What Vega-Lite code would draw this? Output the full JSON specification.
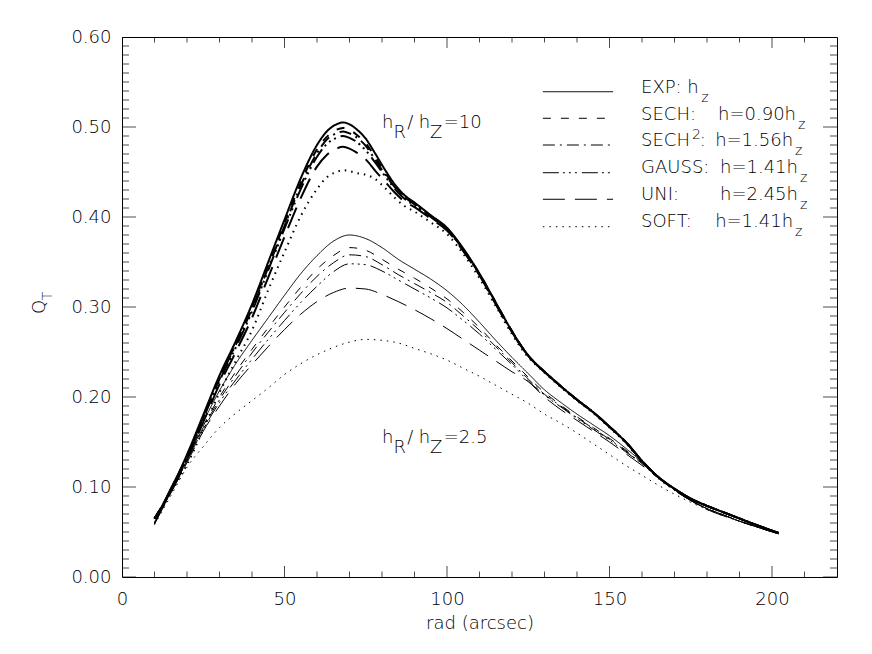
{
"$schema":"https://vega.github.io/schema/vega-lite/v6.json",
"width":715,"height":540,
"autosize":{"type":"none"},
"padding":{"left":122,"top":37,"right":35,"bottom":77},
"background":"white",
"config":{"view":{"stroke":"black","strokeWidth":1},
"axis":{"grid":false,"ticks":false,"tickSize":0,"domain":false,"labelFont":"DejaVu Sans","labelFontSize":18,"labelFontWeight":200,"labelColor":"black","titleFont":"DejaVu Sans","titleFontSize":18,"titleFontWeight":200,"titleColor":"black","labelFlush":false}},
"datasets":{
"curves":[
{"m":"EXP","s":"A","r":10,"q":0.065},{"m":"EXP","s":"A","r":12.5,"q":0.080},{"m":"EXP","s":"A","r":15,"q":0.098},{"m":"EXP","s":"A","r":17.5,"q":0.116},{"m":"EXP","s":"A","r":20,"q":0.136},{"m":"EXP","s":"A","r":25,"q":0.180},{"m":"EXP","s":"A","r":30,"q":0.224},{"m":"EXP","s":"A","r":35,"q":0.262},{"m":"EXP","s":"A","r":40,"q":0.303},{"m":"EXP","s":"A","r":45,"q":0.350},{"m":"EXP","s":"A","r":50,"q":0.397},{"m":"EXP","s":"A","r":55,"q":0.443},{"m":"EXP","s":"A","r":60,"q":0.480},{"m":"EXP","s":"A","r":63,"q":0.495},{"m":"EXP","s":"A","r":66,"q":0.503},{"m":"EXP","s":"A","r":68,"q":0.505},{"m":"EXP","s":"A","r":70,"q":0.503},{"m":"EXP","s":"A","r":72,"q":0.498},{"m":"EXP","s":"A","r":75,"q":0.487},{"m":"EXP","s":"A","r":78,"q":0.470},{"m":"EXP","s":"A","r":81,"q":0.452},{"m":"EXP","s":"A","r":84,"q":0.436},{"m":"EXP","s":"A","r":87,"q":0.424},{"m":"EXP","s":"A","r":90,"q":0.416},{"m":"EXP","s":"A","r":95,"q":0.402},{"m":"EXP","s":"A","r":100,"q":0.388},{"m":"EXP","s":"A","r":105,"q":0.365},{"m":"EXP","s":"A","r":110,"q":0.337},{"m":"EXP","s":"A","r":115,"q":0.305},{"m":"EXP","s":"A","r":120,"q":0.273},{"m":"EXP","s":"A","r":125,"q":0.246},{"m":"EXP","s":"A","r":127,"q":0.238},{"m":"EXP","s":"A","r":130,"q":0.228},{"m":"EXP","s":"A","r":135,"q":0.212},{"m":"EXP","s":"A","r":140,"q":0.197},{"m":"EXP","s":"A","r":145,"q":0.183},{"m":"EXP","s":"A","r":150,"q":0.167},{"m":"EXP","s":"A","r":155,"q":0.150},{"m":"EXP","s":"A","r":160,"q":0.129},{"m":"EXP","s":"A","r":165,"q":0.111},{"m":"EXP","s":"A","r":170,"q":0.098},{"m":"EXP","s":"A","r":175,"q":0.087},{"m":"EXP","s":"A","r":180,"q":0.079},{"m":"EXP","s":"A","r":185,"q":0.072},{"m":"EXP","s":"A","r":190,"q":0.065},{"m":"EXP","s":"A","r":195,"q":0.058},{"m":"EXP","s":"A","r":202,"q":0.049},
{"m":"SECH","s":"A","r":10,"q":0.065},{"m":"SECH","s":"A","r":12.5,"q":0.080},{"m":"SECH","s":"A","r":15,"q":0.097},{"m":"SECH","s":"A","r":17.5,"q":0.115},{"m":"SECH","s":"A","r":20,"q":0.135},{"m":"SECH","s":"A","r":25,"q":0.178},{"m":"SECH","s":"A","r":30,"q":0.222},{"m":"SECH","s":"A","r":35,"q":0.259},{"m":"SECH","s":"A","r":40,"q":0.300},{"m":"SECH","s":"A","r":45,"q":0.346},{"m":"SECH","s":"A","r":50,"q":0.393},{"m":"SECH","s":"A","r":55,"q":0.438},{"m":"SECH","s":"A","r":60,"q":0.475},{"m":"SECH","s":"A","r":63,"q":0.489},{"m":"SECH","s":"A","r":66,"q":0.497},{"m":"SECH","s":"A","r":68,"q":0.499},{"m":"SECH","s":"A","r":70,"q":0.497},{"m":"SECH","s":"A","r":72,"q":0.492},{"m":"SECH","s":"A","r":75,"q":0.482},{"m":"SECH","s":"A","r":78,"q":0.466},{"m":"SECH","s":"A","r":81,"q":0.449},{"m":"SECH","s":"A","r":84,"q":0.434},{"m":"SECH","s":"A","r":87,"q":0.423},{"m":"SECH","s":"A","r":90,"q":0.415},{"m":"SECH","s":"A","r":95,"q":0.401},{"m":"SECH","s":"A","r":100,"q":0.387},{"m":"SECH","s":"A","r":105,"q":0.364},{"m":"SECH","s":"A","r":110,"q":0.337},{"m":"SECH","s":"A","r":115,"q":0.305},{"m":"SECH","s":"A","r":120,"q":0.273},{"m":"SECH","s":"A","r":125,"q":0.246},{"m":"SECH","s":"A","r":127,"q":0.238},{"m":"SECH","s":"A","r":130,"q":0.228},{"m":"SECH","s":"A","r":135,"q":0.212},{"m":"SECH","s":"A","r":140,"q":0.197},{"m":"SECH","s":"A","r":145,"q":0.183},{"m":"SECH","s":"A","r":150,"q":0.167},{"m":"SECH","s":"A","r":155,"q":0.150},{"m":"SECH","s":"A","r":160,"q":0.129},{"m":"SECH","s":"A","r":165,"q":0.111},{"m":"SECH","s":"A","r":170,"q":0.098},{"m":"SECH","s":"A","r":175,"q":0.087},{"m":"SECH","s":"A","r":180,"q":0.079},{"m":"SECH","s":"A","r":185,"q":0.072},{"m":"SECH","s":"A","r":190,"q":0.065},{"m":"SECH","s":"A","r":195,"q":0.058},{"m":"SECH","s":"A","r":202,"q":0.049},
{"m":"SECH2","s":"A","r":10,"q":0.065},{"m":"SECH2","s":"A","r":12.5,"q":0.080},{"m":"SECH2","s":"A","r":15,"q":0.097},{"m":"SECH2","s":"A","r":17.5,"q":0.115},{"m":"SECH2","s":"A","r":20,"q":0.134},{"m":"SECH2","s":"A","r":25,"q":0.177},{"m":"SECH2","s":"A","r":30,"q":0.220},{"m":"SECH2","s":"A","r":35,"q":0.258},{"m":"SECH2","s":"A","r":40,"q":0.298},{"m":"SECH2","s":"A","r":45,"q":0.344},{"m":"SECH2","s":"A","r":50,"q":0.390},{"m":"SECH2","s":"A","r":55,"q":0.435},{"m":"SECH2","s":"A","r":60,"q":0.471},{"m":"SECH2","s":"A","r":63,"q":0.486},{"m":"SECH2","s":"A","r":66,"q":0.493},{"m":"SECH2","s":"A","r":68,"q":0.495},{"m":"SECH2","s":"A","r":70,"q":0.493},{"m":"SECH2","s":"A","r":72,"q":0.489},{"m":"SECH2","s":"A","r":75,"q":0.479},{"m":"SECH2","s":"A","r":78,"q":0.463},{"m":"SECH2","s":"A","r":81,"q":0.447},{"m":"SECH2","s":"A","r":84,"q":0.433},{"m":"SECH2","s":"A","r":87,"q":0.422},{"m":"SECH2","s":"A","r":90,"q":0.414},{"m":"SECH2","s":"A","r":95,"q":0.401},{"m":"SECH2","s":"A","r":100,"q":0.387},{"m":"SECH2","s":"A","r":105,"q":0.364},{"m":"SECH2","s":"A","r":110,"q":0.336},{"m":"SECH2","s":"A","r":115,"q":0.304},{"m":"SECH2","s":"A","r":120,"q":0.273},{"m":"SECH2","s":"A","r":125,"q":0.246},{"m":"SECH2","s":"A","r":127,"q":0.238},{"m":"SECH2","s":"A","r":130,"q":0.228},{"m":"SECH2","s":"A","r":135,"q":0.212},{"m":"SECH2","s":"A","r":140,"q":0.197},{"m":"SECH2","s":"A","r":145,"q":0.183},{"m":"SECH2","s":"A","r":150,"q":0.167},{"m":"SECH2","s":"A","r":155,"q":0.150},{"m":"SECH2","s":"A","r":160,"q":0.129},{"m":"SECH2","s":"A","r":165,"q":0.111},{"m":"SECH2","s":"A","r":170,"q":0.098},{"m":"SECH2","s":"A","r":175,"q":0.087},{"m":"SECH2","s":"A","r":180,"q":0.079},{"m":"SECH2","s":"A","r":185,"q":0.072},{"m":"SECH2","s":"A","r":190,"q":0.065},{"m":"SECH2","s":"A","r":195,"q":0.058},{"m":"SECH2","s":"A","r":202,"q":0.049},
{"m":"GAUSS","s":"A","r":10,"q":0.065},{"m":"GAUSS","s":"A","r":12.5,"q":0.079},{"m":"GAUSS","s":"A","r":15,"q":0.097},{"m":"GAUSS","s":"A","r":17.5,"q":0.114},{"m":"GAUSS","s":"A","r":20,"q":0.133},{"m":"GAUSS","s":"A","r":25,"q":0.176},{"m":"GAUSS","s":"A","r":30,"q":0.218},{"m":"GAUSS","s":"A","r":35,"q":0.255},{"m":"GAUSS","s":"A","r":40,"q":0.295},{"m":"GAUSS","s":"A","r":45,"q":0.341},{"m":"GAUSS","s":"A","r":50,"q":0.387},{"m":"GAUSS","s":"A","r":55,"q":0.431},{"m":"GAUSS","s":"A","r":60,"q":0.467},{"m":"GAUSS","s":"A","r":63,"q":0.481},{"m":"GAUSS","s":"A","r":66,"q":0.488},{"m":"GAUSS","s":"A","r":68,"q":0.490},{"m":"GAUSS","s":"A","r":70,"q":0.488},{"m":"GAUSS","s":"A","r":72,"q":0.484},{"m":"GAUSS","s":"A","r":75,"q":0.474},{"m":"GAUSS","s":"A","r":78,"q":0.460},{"m":"GAUSS","s":"A","r":81,"q":0.445},{"m":"GAUSS","s":"A","r":84,"q":0.431},{"m":"GAUSS","s":"A","r":87,"q":0.420},{"m":"GAUSS","s":"A","r":90,"q":0.413},{"m":"GAUSS","s":"A","r":95,"q":0.400},{"m":"GAUSS","s":"A","r":100,"q":0.386},{"m":"GAUSS","s":"A","r":105,"q":0.364},{"m":"GAUSS","s":"A","r":110,"q":0.336},{"m":"GAUSS","s":"A","r":115,"q":0.304},{"m":"GAUSS","s":"A","r":120,"q":0.272},{"m":"GAUSS","s":"A","r":125,"q":0.246},{"m":"GAUSS","s":"A","r":127,"q":0.238},{"m":"GAUSS","s":"A","r":130,"q":0.228},{"m":"GAUSS","s":"A","r":135,"q":0.212},{"m":"GAUSS","s":"A","r":140,"q":0.197},{"m":"GAUSS","s":"A","r":145,"q":0.183},{"m":"GAUSS","s":"A","r":150,"q":0.167},{"m":"GAUSS","s":"A","r":155,"q":0.150},{"m":"GAUSS","s":"A","r":160,"q":0.129},{"m":"GAUSS","s":"A","r":165,"q":0.111},{"m":"GAUSS","s":"A","r":170,"q":0.098},{"m":"GAUSS","s":"A","r":175,"q":0.087},{"m":"GAUSS","s":"A","r":180,"q":0.079},{"m":"GAUSS","s":"A","r":185,"q":0.072},{"m":"GAUSS","s":"A","r":190,"q":0.065},{"m":"GAUSS","s":"A","r":195,"q":0.058},{"m":"GAUSS","s":"A","r":202,"q":0.049},
{"m":"UNI","s":"A","r":10,"q":0.065},{"m":"UNI","s":"A","r":12.5,"q":0.079},{"m":"UNI","s":"A","r":15,"q":0.095},{"m":"UNI","s":"A","r":17.5,"q":0.112},{"m":"UNI","s":"A","r":20,"q":0.131},{"m":"UNI","s":"A","r":25,"q":0.172},{"m":"UNI","s":"A","r":30,"q":0.214},{"m":"UNI","s":"A","r":35,"q":0.250},{"m":"UNI","s":"A","r":40,"q":0.288},{"m":"UNI","s":"A","r":45,"q":0.333},{"m":"UNI","s":"A","r":50,"q":0.378},{"m":"UNI","s":"A","r":55,"q":0.421},{"m":"UNI","s":"A","r":60,"q":0.456},{"m":"UNI","s":"A","r":63,"q":0.469},{"m":"UNI","s":"A","r":66,"q":0.476},{"m":"UNI","s":"A","r":68,"q":0.478},{"m":"UNI","s":"A","r":70,"q":0.476},{"m":"UNI","s":"A","r":72,"q":0.472},{"m":"UNI","s":"A","r":75,"q":0.464},{"m":"UNI","s":"A","r":78,"q":0.451},{"m":"UNI","s":"A","r":81,"q":0.439},{"m":"UNI","s":"A","r":84,"q":0.427},{"m":"UNI","s":"A","r":87,"q":0.417},{"m":"UNI","s":"A","r":90,"q":0.411},{"m":"UNI","s":"A","r":95,"q":0.398},{"m":"UNI","s":"A","r":100,"q":0.385},{"m":"UNI","s":"A","r":105,"q":0.362},{"m":"UNI","s":"A","r":110,"q":0.335},{"m":"UNI","s":"A","r":115,"q":0.303},{"m":"UNI","s":"A","r":120,"q":0.272},{"m":"UNI","s":"A","r":125,"q":0.246},{"m":"UNI","s":"A","r":127,"q":0.238},{"m":"UNI","s":"A","r":130,"q":0.228},{"m":"UNI","s":"A","r":135,"q":0.212},{"m":"UNI","s":"A","r":140,"q":0.197},{"m":"UNI","s":"A","r":145,"q":0.183},{"m":"UNI","s":"A","r":150,"q":0.167},{"m":"UNI","s":"A","r":155,"q":0.150},{"m":"UNI","s":"A","r":160,"q":0.129},{"m":"UNI","s":"A","r":165,"q":0.111},{"m":"UNI","s":"A","r":170,"q":0.098},{"m":"UNI","s":"A","r":175,"q":0.087},{"m":"UNI","s":"A","r":180,"q":0.079},{"m":"UNI","s":"A","r":185,"q":0.072},{"m":"UNI","s":"A","r":190,"q":0.065},{"m":"UNI","s":"A","r":195,"q":0.058},{"m":"UNI","s":"A","r":202,"q":0.049},
{"m":"SOFT","s":"A","r":10,"q":0.065},{"m":"SOFT","s":"A","r":12.5,"q":0.078},{"m":"SOFT","s":"A","r":15,"q":0.094},{"m":"SOFT","s":"A","r":17.5,"q":0.109},{"m":"SOFT","s":"A","r":20,"q":0.125},{"m":"SOFT","s":"A","r":25,"q":0.164},{"m":"SOFT","s":"A","r":30,"q":0.205},{"m":"SOFT","s":"A","r":35,"q":0.240},{"m":"SOFT","s":"A","r":40,"q":0.274},{"m":"SOFT","s":"A","r":45,"q":0.319},{"m":"SOFT","s":"A","r":50,"q":0.361},{"m":"SOFT","s":"A","r":55,"q":0.401},{"m":"SOFT","s":"A","r":60,"q":0.431},{"m":"SOFT","s":"A","r":63,"q":0.444},{"m":"SOFT","s":"A","r":66,"q":0.450},{"m":"SOFT","s":"A","r":68,"q":0.452},{"m":"SOFT","s":"A","r":70,"q":0.451},{"m":"SOFT","s":"A","r":72,"q":0.449},{"m":"SOFT","s":"A","r":75,"q":0.447},{"m":"SOFT","s":"A","r":78,"q":0.442},{"m":"SOFT","s":"A","r":81,"q":0.432},{"m":"SOFT","s":"A","r":84,"q":0.421},{"m":"SOFT","s":"A","r":87,"q":0.412},{"m":"SOFT","s":"A","r":90,"q":0.406},{"m":"SOFT","s":"A","r":95,"q":0.394},{"m":"SOFT","s":"A","r":100,"q":0.381},{"m":"SOFT","s":"A","r":105,"q":0.359},{"m":"SOFT","s":"A","r":110,"q":0.332},{"m":"SOFT","s":"A","r":115,"q":0.301},{"m":"SOFT","s":"A","r":120,"q":0.270},{"m":"SOFT","s":"A","r":125,"q":0.244},{"m":"SOFT","s":"A","r":127,"q":0.237},{"m":"SOFT","s":"A","r":130,"q":0.227},{"m":"SOFT","s":"A","r":135,"q":0.211},{"m":"SOFT","s":"A","r":140,"q":0.196},{"m":"SOFT","s":"A","r":145,"q":0.182},{"m":"SOFT","s":"A","r":150,"q":0.166},{"m":"SOFT","s":"A","r":155,"q":0.149},{"m":"SOFT","s":"A","r":160,"q":0.128},{"m":"SOFT","s":"A","r":165,"q":0.110},{"m":"SOFT","s":"A","r":170,"q":0.097},{"m":"SOFT","s":"A","r":175,"q":0.087},{"m":"SOFT","s":"A","r":180,"q":0.079},{"m":"SOFT","s":"A","r":185,"q":0.072},{"m":"SOFT","s":"A","r":190,"q":0.065},{"m":"SOFT","s":"A","r":195,"q":0.058},{"m":"SOFT","s":"A","r":202,"q":0.049},
{"m":"EXP","s":"B","r":10,"q":0.061},{"m":"EXP","s":"B","r":15,"q":0.095},{"m":"EXP","s":"B","r":20,"q":0.130},{"m":"EXP","s":"B","r":25,"q":0.172},{"m":"EXP","s":"B","r":30,"q":0.207},{"m":"EXP","s":"B","r":35,"q":0.237},{"m":"EXP","s":"B","r":40,"q":0.263},{"m":"EXP","s":"B","r":45,"q":0.288},{"m":"EXP","s":"B","r":50,"q":0.313},{"m":"EXP","s":"B","r":55,"q":0.337},{"m":"EXP","s":"B","r":60,"q":0.357},{"m":"EXP","s":"B","r":65,"q":0.373},{"m":"EXP","s":"B","r":70,"q":0.380},{"m":"EXP","s":"B","r":75,"q":0.376},{"m":"EXP","s":"B","r":80,"q":0.366},{"m":"EXP","s":"B","r":85,"q":0.353},{"m":"EXP","s":"B","r":90,"q":0.342},{"m":"EXP","s":"B","r":95,"q":0.331},{"m":"EXP","s":"B","r":100,"q":0.318},{"m":"EXP","s":"B","r":105,"q":0.302},{"m":"EXP","s":"B","r":110,"q":0.283},{"m":"EXP","s":"B","r":115,"q":0.263},{"m":"EXP","s":"B","r":120,"q":0.244},{"m":"EXP","s":"B","r":125,"q":0.226},{"m":"EXP","s":"B","r":130,"q":0.208},{"m":"EXP","s":"B","r":135,"q":0.194},{"m":"EXP","s":"B","r":140,"q":0.181},{"m":"EXP","s":"B","r":145,"q":0.169},{"m":"EXP","s":"B","r":150,"q":0.157},{"m":"EXP","s":"B","r":155,"q":0.143},{"m":"EXP","s":"B","r":160,"q":0.128},{"m":"EXP","s":"B","r":165,"q":0.112},{"m":"EXP","s":"B","r":170,"q":0.097},{"m":"EXP","s":"B","r":175,"q":0.085},{"m":"EXP","s":"B","r":180,"q":0.076},{"m":"EXP","s":"B","r":185,"q":0.069},{"m":"EXP","s":"B","r":190,"q":0.062},{"m":"EXP","s":"B","r":195,"q":0.056},{"m":"EXP","s":"B","r":202,"q":0.048},
{"m":"SECH","s":"B","r":10,"q":0.060},{"m":"SECH","s":"B","r":15,"q":0.094},{"m":"SECH","s":"B","r":20,"q":0.130},{"m":"SECH","s":"B","r":25,"q":0.168},{"m":"SECH","s":"B","r":30,"q":0.200},{"m":"SECH","s":"B","r":35,"q":0.228},{"m":"SECH","s":"B","r":40,"q":0.253},{"m":"SECH","s":"B","r":45,"q":0.277},{"m":"SECH","s":"B","r":50,"q":0.300},{"m":"SECH","s":"B","r":55,"q":0.322},{"m":"SECH","s":"B","r":60,"q":0.342},{"m":"SECH","s":"B","r":65,"q":0.357},{"m":"SECH","s":"B","r":70,"q":0.366},{"m":"SECH","s":"B","r":75,"q":0.363},{"m":"SECH","s":"B","r":80,"q":0.353},{"m":"SECH","s":"B","r":85,"q":0.342},{"m":"SECH","s":"B","r":90,"q":0.332},{"m":"SECH","s":"B","r":95,"q":0.321},{"m":"SECH","s":"B","r":100,"q":0.309},{"m":"SECH","s":"B","r":105,"q":0.294},{"m":"SECH","s":"B","r":110,"q":0.277},{"m":"SECH","s":"B","r":115,"q":0.258},{"m":"SECH","s":"B","r":120,"q":0.240},{"m":"SECH","s":"B","r":125,"q":0.222},{"m":"SECH","s":"B","r":130,"q":0.205},{"m":"SECH","s":"B","r":135,"q":0.191},{"m":"SECH","s":"B","r":140,"q":0.178},{"m":"SECH","s":"B","r":145,"q":0.166},{"m":"SECH","s":"B","r":150,"q":0.154},{"m":"SECH","s":"B","r":155,"q":0.141},{"m":"SECH","s":"B","r":160,"q":0.127},{"m":"SECH","s":"B","r":165,"q":0.111},{"m":"SECH","s":"B","r":170,"q":0.097},{"m":"SECH","s":"B","r":175,"q":0.085},{"m":"SECH","s":"B","r":180,"q":0.076},{"m":"SECH","s":"B","r":185,"q":0.069},{"m":"SECH","s":"B","r":190,"q":0.062},{"m":"SECH","s":"B","r":195,"q":0.056},{"m":"SECH","s":"B","r":202,"q":0.048},
{"m":"SECH2","s":"B","r":10,"q":0.060},{"m":"SECH2","s":"B","r":15,"q":0.094},{"m":"SECH2","s":"B","r":20,"q":0.130},{"m":"SECH2","s":"B","r":25,"q":0.166},{"m":"SECH2","s":"B","r":30,"q":0.197},{"m":"SECH2","s":"B","r":35,"q":0.224},{"m":"SECH2","s":"B","r":40,"q":0.249},{"m":"SECH2","s":"B","r":45,"q":0.272},{"m":"SECH2","s":"B","r":50,"q":0.294},{"m":"SECH2","s":"B","r":55,"q":0.315},{"m":"SECH2","s":"B","r":60,"q":0.334},{"m":"SECH2","s":"B","r":65,"q":0.349},{"m":"SECH2","s":"B","r":70,"q":0.358},{"m":"SECH2","s":"B","r":75,"q":0.356},{"m":"SECH2","s":"B","r":80,"q":0.347},{"m":"SECH2","s":"B","r":85,"q":0.336},{"m":"SECH2","s":"B","r":90,"q":0.326},{"m":"SECH2","s":"B","r":95,"q":0.316},{"m":"SECH2","s":"B","r":100,"q":0.305},{"m":"SECH2","s":"B","r":105,"q":0.290},{"m":"SECH2","s":"B","r":110,"q":0.274},{"m":"SECH2","s":"B","r":115,"q":0.256},{"m":"SECH2","s":"B","r":120,"q":0.238},{"m":"SECH2","s":"B","r":125,"q":0.220},{"m":"SECH2","s":"B","r":130,"q":0.203},{"m":"SECH2","s":"B","r":135,"q":0.190},{"m":"SECH2","s":"B","r":140,"q":0.177},{"m":"SECH2","s":"B","r":145,"q":0.165},{"m":"SECH2","s":"B","r":150,"q":0.153},{"m":"SECH2","s":"B","r":155,"q":0.140},{"m":"SECH2","s":"B","r":160,"q":0.126},{"m":"SECH2","s":"B","r":165,"q":0.111},{"m":"SECH2","s":"B","r":170,"q":0.097},{"m":"SECH2","s":"B","r":175,"q":0.085},{"m":"SECH2","s":"B","r":180,"q":0.076},{"m":"SECH2","s":"B","r":185,"q":0.069},{"m":"SECH2","s":"B","r":190,"q":0.062},{"m":"SECH2","s":"B","r":195,"q":0.056},{"m":"SECH2","s":"B","r":202,"q":0.048},
{"m":"GAUSS","s":"B","r":10,"q":0.059},{"m":"GAUSS","s":"B","r":15,"q":0.094},{"m":"GAUSS","s":"B","r":20,"q":0.129},{"m":"GAUSS","s":"B","r":25,"q":0.164},{"m":"GAUSS","s":"B","r":30,"q":0.194},{"m":"GAUSS","s":"B","r":35,"q":0.219},{"m":"GAUSS","s":"B","r":40,"q":0.242},{"m":"GAUSS","s":"B","r":45,"q":0.264},{"m":"GAUSS","s":"B","r":50,"q":0.285},{"m":"GAUSS","s":"B","r":55,"q":0.305},{"m":"GAUSS","s":"B","r":60,"q":0.323},{"m":"GAUSS","s":"B","r":65,"q":0.339},{"m":"GAUSS","s":"B","r":70,"q":0.348},{"m":"GAUSS","s":"B","r":75,"q":0.347},{"m":"GAUSS","s":"B","r":80,"q":0.340},{"m":"GAUSS","s":"B","r":85,"q":0.330},{"m":"GAUSS","s":"B","r":90,"q":0.320},{"m":"GAUSS","s":"B","r":95,"q":0.310},{"m":"GAUSS","s":"B","r":100,"q":0.299},{"m":"GAUSS","s":"B","r":105,"q":0.285},{"m":"GAUSS","s":"B","r":110,"q":0.270},{"m":"GAUSS","s":"B","r":115,"q":0.253},{"m":"GAUSS","s":"B","r":120,"q":0.236},{"m":"GAUSS","s":"B","r":125,"q":0.218},{"m":"GAUSS","s":"B","r":130,"q":0.202},{"m":"GAUSS","s":"B","r":135,"q":0.189},{"m":"GAUSS","s":"B","r":140,"q":0.176},{"m":"GAUSS","s":"B","r":145,"q":0.164},{"m":"GAUSS","s":"B","r":150,"q":0.152},{"m":"GAUSS","s":"B","r":155,"q":0.139},{"m":"GAUSS","s":"B","r":160,"q":0.126},{"m":"GAUSS","s":"B","r":165,"q":0.111},{"m":"GAUSS","s":"B","r":170,"q":0.097},{"m":"GAUSS","s":"B","r":175,"q":0.085},{"m":"GAUSS","s":"B","r":180,"q":0.076},{"m":"GAUSS","s":"B","r":185,"q":0.069},{"m":"GAUSS","s":"B","r":190,"q":0.062},{"m":"GAUSS","s":"B","r":195,"q":0.056},{"m":"GAUSS","s":"B","r":202,"q":0.048},
{"m":"UNI","s":"B","r":10,"q":0.059},{"m":"UNI","s":"B","r":15,"q":0.093},{"m":"UNI","s":"B","r":20,"q":0.127},{"m":"UNI","s":"B","r":25,"q":0.162},{"m":"UNI","s":"B","r":30,"q":0.190},{"m":"UNI","s":"B","r":35,"q":0.215},{"m":"UNI","s":"B","r":40,"q":0.236},{"m":"UNI","s":"B","r":45,"q":0.256},{"m":"UNI","s":"B","r":50,"q":0.275},{"m":"UNI","s":"B","r":55,"q":0.292},{"m":"UNI","s":"B","r":60,"q":0.306},{"m":"UNI","s":"B","r":65,"q":0.316},{"m":"UNI","s":"B","r":70,"q":0.321},{"m":"UNI","s":"B","r":75,"q":0.320},{"m":"UNI","s":"B","r":80,"q":0.314},{"m":"UNI","s":"B","r":85,"q":0.306},{"m":"UNI","s":"B","r":90,"q":0.297},{"m":"UNI","s":"B","r":95,"q":0.287},{"m":"UNI","s":"B","r":100,"q":0.276},{"m":"UNI","s":"B","r":105,"q":0.264},{"m":"UNI","s":"B","r":110,"q":0.252},{"m":"UNI","s":"B","r":115,"q":0.240},{"m":"UNI","s":"B","r":120,"q":0.228},{"m":"UNI","s":"B","r":125,"q":0.217},{"m":"UNI","s":"B","r":130,"q":0.200},{"m":"UNI","s":"B","r":135,"q":0.186},{"m":"UNI","s":"B","r":140,"q":0.174},{"m":"UNI","s":"B","r":145,"q":0.162},{"m":"UNI","s":"B","r":150,"q":0.150},{"m":"UNI","s":"B","r":155,"q":0.137},{"m":"UNI","s":"B","r":160,"q":0.124},{"m":"UNI","s":"B","r":165,"q":0.110},{"m":"UNI","s":"B","r":170,"q":0.096},{"m":"UNI","s":"B","r":175,"q":0.085},{"m":"UNI","s":"B","r":180,"q":0.075},{"m":"UNI","s":"B","r":185,"q":0.068},{"m":"UNI","s":"B","r":190,"q":0.062},{"m":"UNI","s":"B","r":195,"q":0.056},{"m":"UNI","s":"B","r":202,"q":0.048},
{"m":"SOFT","s":"B","r":10,"q":0.058},{"m":"SOFT","s":"B","r":15,"q":0.090},{"m":"SOFT","s":"B","r":20,"q":0.122},{"m":"SOFT","s":"B","r":25,"q":0.145},{"m":"SOFT","s":"B","r":30,"q":0.166},{"m":"SOFT","s":"B","r":35,"q":0.182},{"m":"SOFT","s":"B","r":40,"q":0.196},{"m":"SOFT","s":"B","r":45,"q":0.210},{"m":"SOFT","s":"B","r":50,"q":0.225},{"m":"SOFT","s":"B","r":55,"q":0.237},{"m":"SOFT","s":"B","r":60,"q":0.247},{"m":"SOFT","s":"B","r":65,"q":0.255},{"m":"SOFT","s":"B","r":70,"q":0.261},{"m":"SOFT","s":"B","r":75,"q":0.264},{"m":"SOFT","s":"B","r":80,"q":0.263},{"m":"SOFT","s":"B","r":85,"q":0.260},{"m":"SOFT","s":"B","r":90,"q":0.254},{"m":"SOFT","s":"B","r":95,"q":0.248},{"m":"SOFT","s":"B","r":100,"q":0.241},{"m":"SOFT","s":"B","r":105,"q":0.232},{"m":"SOFT","s":"B","r":110,"q":0.223},{"m":"SOFT","s":"B","r":115,"q":0.213},{"m":"SOFT","s":"B","r":120,"q":0.203},{"m":"SOFT","s":"B","r":125,"q":0.193},{"m":"SOFT","s":"B","r":130,"q":0.181},{"m":"SOFT","s":"B","r":135,"q":0.171},{"m":"SOFT","s":"B","r":140,"q":0.160},{"m":"SOFT","s":"B","r":145,"q":0.148},{"m":"SOFT","s":"B","r":150,"q":0.136},{"m":"SOFT","s":"B","r":155,"q":0.124},{"m":"SOFT","s":"B","r":160,"q":0.113},{"m":"SOFT","s":"B","r":165,"q":0.102},{"m":"SOFT","s":"B","r":170,"q":0.092},{"m":"SOFT","s":"B","r":175,"q":0.083},{"m":"SOFT","s":"B","r":180,"q":0.075},{"m":"SOFT","s":"B","r":185,"q":0.068},{"m":"SOFT","s":"B","r":190,"q":0.062},{"m":"SOFT","s":"B","r":195,"q":0.056},{"m":"SOFT","s":"B","r":202,"q":0.048}
],
"legend":[
{"m":"EXP","r":129.5,"q":0.5392},{"m":"EXP","r":151.1,"q":0.5392},
{"m":"SECH","r":129.5,"q":0.5097},{"m":"SECH","r":151.1,"q":0.5097},
{"m":"SECH2","r":129.5,"q":0.48},{"m":"SECH2","r":151.1,"q":0.48},
{"m":"GAUSS","r":129.5,"q":0.4492},{"m":"GAUSS","r":151.1,"q":0.4492},
{"m":"UNI","r":129.5,"q":0.4197},{"m":"UNI","r":151.1,"q":0.4197},
{"m":"SOFT","r":129.5,"q":0.3892},{"m":"SOFT","r":151.1,"q":0.3892}
],
"texts":[
{"r":159.7,"q":0.5378,"t":"EXP: h"},
{"r":159.7,"q":0.5078,"t":"SECH:"},{"r":183.4,"q":0.5078,"t":"h=0.90h"},
{"r":159.7,"q":0.4789,"t":"SECH"},{"r":177.8,"q":0.4789,"t":":"},{"r":182.5,"q":0.4789,"t":"h=1.56h"},
{"r":159.7,"q":0.4489,"t":"GAUSS:"},{"r":184,"q":0.4489,"t":"h=1.41h"},
{"r":159.7,"q":0.4189,"t":"UNI:"},{"r":184,"q":0.4189,"t":"h=2.45h"},
{"r":159.7,"q":0.3889,"t":"SOFT:"},{"r":182.5,"q":0.3889,"t":"h=1.41h"},
{"r":80.0,"q":0.4989,"t":"h"},{"r":83.5,"q":0.4878,"t":"R"},{"r":87.8,"q":0.4989,"t":"/"},{"r":91.3,"q":0.4989,"t":"h"},{"r":94.8,"q":0.4878,"t":"Z"},{"r":99.0,"q":0.4989,"t":"=10"},
{"r":80.0,"q":0.1489,"t":"h"},{"r":83.5,"q":0.1378,"t":"R"},{"r":87.8,"q":0.1489,"t":"/"},{"r":91.3,"q":0.1489,"t":"h"},{"r":94.8,"q":0.1378,"t":"Z"},{"r":99.0,"q":0.1489,"t":"=2.5"}
],
"subs":[
{"r":178.2,"q":0.5278,"t":"z"},
{"r":208.0,"q":0.4978,"t":"z"},
{"r":175.4,"q":0.4867,"t":"2"},
{"r":207.1,"q":0.4689,"t":"z"},
{"r":208.6,"q":0.4389,"t":"z"},
{"r":208.6,"q":0.4089,"t":"z"},
{"r":207.1,"q":0.3789,"t":"z"}
],
"ytitle":[{"r":-23.7,"q":0.3,"t":"Q"}],
"ytitlesub":[{"r":-21.5,"q":0.3122,"t":"T"}],
"xmajor":[{"v":0},{"v":50},{"v":100},{"v":150},{"v":200}],
"xminor":[{"v":10},{"v":20},{"v":30},{"v":40},{"v":60},{"v":70},{"v":80},{"v":90},{"v":110},{"v":120},{"v":130},{"v":140},{"v":160},{"v":170},{"v":180},{"v":190},{"v":210}],
"ymajor":[{"v":0},{"v":0.1},{"v":0.2},{"v":0.3},{"v":0.4},{"v":0.5},{"v":0.6}],
"yminor":[{"v":0.01},{"v":0.02},{"v":0.03},{"v":0.04},{"v":0.05},{"v":0.06},{"v":0.07},{"v":0.08},{"v":0.09},{"v":0.11},{"v":0.12},{"v":0.13},{"v":0.14},{"v":0.15},{"v":0.16},{"v":0.17},{"v":0.18},{"v":0.19},{"v":0.21},{"v":0.22},{"v":0.23},{"v":0.24},{"v":0.25},{"v":0.26},{"v":0.27},{"v":0.28},{"v":0.29},{"v":0.31},{"v":0.32},{"v":0.33},{"v":0.34},{"v":0.35},{"v":0.36},{"v":0.37},{"v":0.38},{"v":0.39},{"v":0.41},{"v":0.42},{"v":0.43},{"v":0.44},{"v":0.45},{"v":0.46},{"v":0.47},{"v":0.48},{"v":0.49},{"v":0.51},{"v":0.52},{"v":0.53},{"v":0.54},{"v":0.55},{"v":0.56},{"v":0.57},{"v":0.58},{"v":0.59}]
},
"layer":[
{"data":{"name":"curves"},
"mark":{"type":"line","interpolate":"monotone","color":"black"},
"encoding":{
"x":{"field":"r","type":"quantitative","scale":{"domain":[0,220],"nice":false,"zero":false},
"axis":{"orient":"bottom","values":[0,50,100,150,200],"format":"d","labelPadding":13,"title":"rad (arcsec)","titlePadding":6}},
"y":{"field":"q","type":"quantitative","scale":{"domain":[0,0.6],"nice":false,"zero":false},
"axis":{"orient":"left","values":[0,0.1,0.2,0.3,0.4,0.5,0.6],"format":".2f","labelPadding":11,"title":null}},
"detail":{"field":"s","type":"nominal"},
"strokeDash":{"field":"m","type":"nominal","scale":{"domain":["EXP","SECH","SECH2","GAUSS","UNI","SOFT"],"range":[[1,0],[8,10],[12,5,2,5],[16,4,2,4,2,4,2,5],[22,10],[1.5,5]]},"legend":null},
"strokeWidth":{"field":"s","type":"nominal","scale":{"domain":["A","B"],"range":[2,1]},"legend":null}
}},
{"data":{"name":"legend"},
"mark":{"type":"line","color":"black","strokeWidth":1},
"encoding":{
"x":{"field":"r","type":"quantitative","axis":null},
"y":{"field":"q","type":"quantitative","axis":null},
"strokeDash":{"field":"m","type":"nominal","scale":{"domain":["EXP","SECH","SECH2","GAUSS","UNI","SOFT"],"range":[[1,0],[8,10],[12,5,2,5],[16,4,2,4,2,4,2,5],[22,10],[1.5,5]]},"legend":null}
}},
{"data":{"name":"texts"},
"mark":{"type":"text","align":"left","baseline":"alphabetic","font":"DejaVu Sans","fontSize":18,"fontWeight":200,"color":"black"},
"encoding":{
"x":{"field":"r","type":"quantitative","axis":null},
"y":{"field":"q","type":"quantitative","axis":null},
"text":{"field":"t","type":"nominal"}
}},
{"data":{"name":"subs"},
"mark":{"type":"text","align":"left","baseline":"alphabetic","font":"DejaVu Sans","fontSize":14,"fontWeight":200,"color":"black"},
"encoding":{
"x":{"field":"r","type":"quantitative","axis":null},
"y":{"field":"q","type":"quantitative","axis":null},
"text":{"field":"t","type":"nominal"}
}},
{"data":{"name":"ytitle"},
"mark":{"type":"text","align":"center","baseline":"alphabetic","angle":270,"font":"DejaVu Sans","fontSize":18,"fontWeight":200,"color":"black"},
"encoding":{
"x":{"field":"r","type":"quantitative","axis":null},
"y":{"field":"q","type":"quantitative","axis":null},
"text":{"field":"t","type":"nominal"}
}},
{"data":{"name":"ytitlesub"},
"mark":{"type":"text","align":"center","baseline":"alphabetic","angle":270,"font":"DejaVu Sans","fontSize":14,"fontWeight":200,"color":"black"},
"encoding":{
"x":{"field":"r","type":"quantitative","axis":null},
"y":{"field":"q","type":"quantitative","axis":null},
"text":{"field":"t","type":"nominal"}
}},
{"data":{"name":"xmajor"},
"mark":{"type":"tick","orient":"vertical","clip":true,"color":"black","thickness":1,"size":22},
"encoding":{"x":{"field":"v","type":"quantitative","axis":null},"y":{"datum":0,"type":"quantitative","axis":null}}},
{"data":{"name":"xmajor"},
"mark":{"type":"tick","orient":"vertical","clip":true,"color":"black","thickness":1,"size":22},
"encoding":{"x":{"field":"v","type":"quantitative","axis":null},"y":{"datum":0.6,"type":"quantitative","axis":null}}},
{"data":{"name":"xminor"},
"mark":{"type":"tick","orient":"vertical","clip":true,"color":"black","thickness":1,"size":11},
"encoding":{"x":{"field":"v","type":"quantitative","axis":null},"y":{"datum":0,"type":"quantitative","axis":null}}},
{"data":{"name":"xminor"},
"mark":{"type":"tick","orient":"vertical","clip":true,"color":"black","thickness":1,"size":11},
"encoding":{"x":{"field":"v","type":"quantitative","axis":null},"y":{"datum":0.6,"type":"quantitative","axis":null}}},
{"data":{"name":"ymajor"},
"mark":{"type":"tick","orient":"horizontal","clip":true,"color":"black","thickness":1,"size":28},
"encoding":{"y":{"field":"v","type":"quantitative","axis":null},"x":{"datum":0,"type":"quantitative","axis":null}}},
{"data":{"name":"ymajor"},
"mark":{"type":"tick","orient":"horizontal","clip":true,"color":"black","thickness":1,"size":28},
"encoding":{"y":{"field":"v","type":"quantitative","axis":null},"x":{"datum":220,"type":"quantitative","axis":null}}},
{"data":{"name":"yminor"},
"mark":{"type":"tick","orient":"horizontal","clip":true,"color":"black","thickness":1,"size":14},
"encoding":{"y":{"field":"v","type":"quantitative","axis":null},"x":{"datum":0,"type":"quantitative","axis":null}}},
{"data":{"name":"yminor"},
"mark":{"type":"tick","orient":"horizontal","clip":true,"color":"black","thickness":1,"size":14},
"encoding":{"y":{"field":"v","type":"quantitative","axis":null},"x":{"datum":220,"type":"quantitative","axis":null}}}
],
"resolve":{"axis":{"x":"independent","y":"independent"}}
}
